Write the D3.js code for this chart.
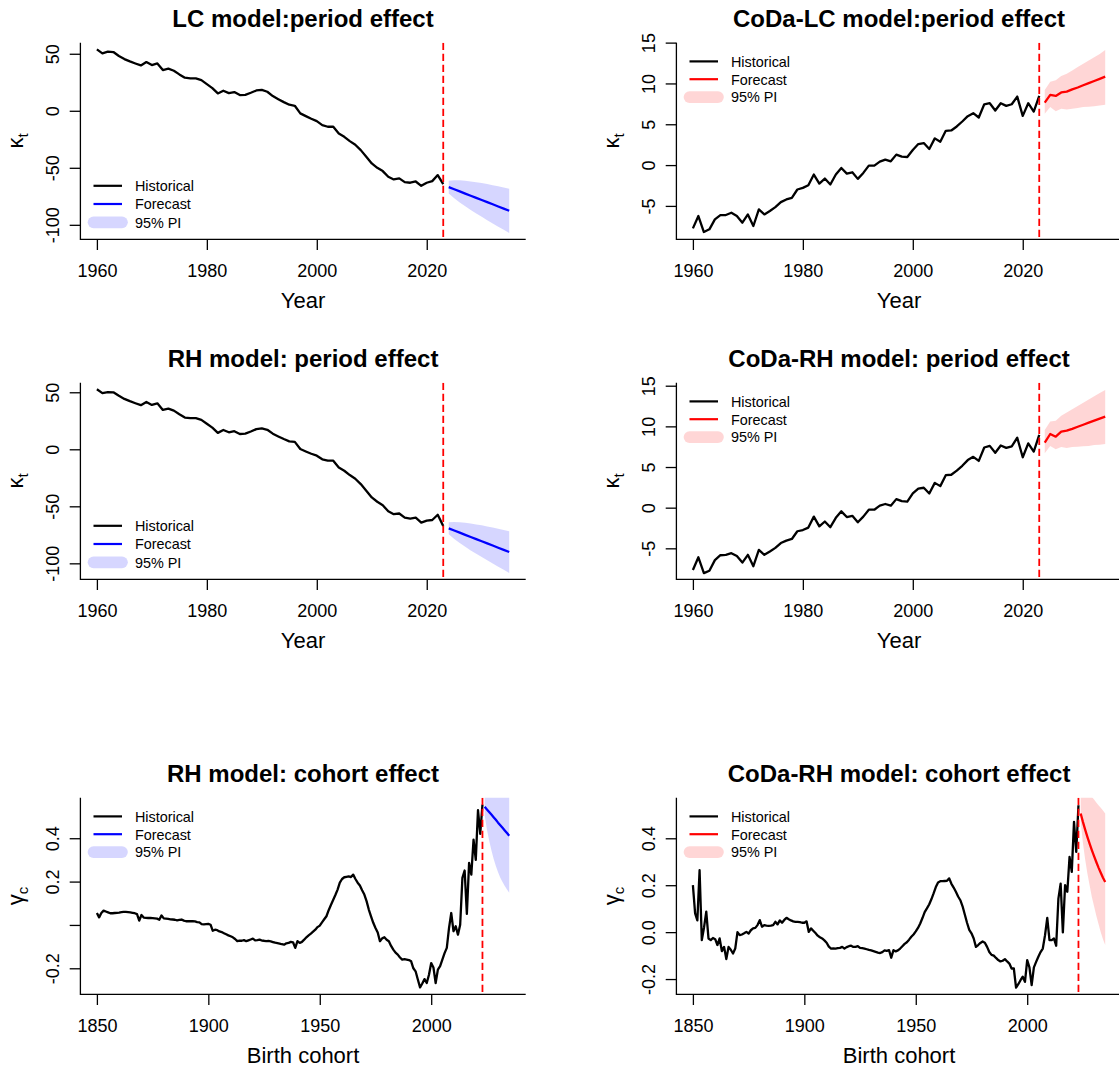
<!DOCTYPE html>
<html>
<head>
<meta charset="utf-8">
<script src="https://cdn.jsdelivr.net/npm/d3@7"></script>
<style>
  body { margin: 0; background: #fff; }
  svg { display: block; }
</style>
</head>
<body>
<svg id="chart" width="1119" height="1067"></svg>
<script>
// ---------------- DATA ----------------
const periodYears   = d3.range(1960, 2024);   // historical period years
const forecastYears = d3.range(2024, 2036);   // forecast years
const cohortYears   = d3.range(1850, 2024);   // historical birth cohorts

const periodTicks = [1960, 1980, 2000, 2020];
const cohortTicks = [1850, 1900, 1950, 2000];
const kappaTicksLarge = [-100, -50, 0, 50];
const kappaLabelsLarge = ["-100", "-50", "0", "50"];
const kappaTicksSmall = [-5, 0, 5, 10, 15];
const kappaLabelsSmall = ["-5", "0", "5", "10", "15"];
const gammaTicks = [-0.2, 0.0, 0.2, 0.4];
const gammaLabelsRH = ["-0.2", "", "0.2", "0.4"];
const gammaLabelsCoDa = ["-0.2", "0.0", "0.2", "0.4"];

// LC model: period effect
const lcKappa = [53.8,50.3,51.8,51.5,48.0,45.3,43.3,41.5,39.8,42.7,
  40.1,41.5,35.7,36.9,35.1,31.9,29.0,28.4,28.4,26.9,
  23.4,19.9,15.2,17.6,15.5,16.4,13.8,14.0,15.8,17.8,
  18.4,16.7,12.9,10.2,7.6,5.3,4.4,-2.3,-4.7,-7.0,
  -9.1,-12.6,-14.0,-14.0,-19.9,-22.8,-26.6,-29.8,-34.5,-40.3,
  -46.2,-50.0,-52.9,-57.9,-60.2,-59.3,-62.6,-63.1,-62.0,-65.8,
  -63.1,-61.7,-56.4,-64.3];
const lcForecast = [-66.9,-68.8,-70.7,-72.6,-74.5,-76.4,-78.2,-80.1,-82.0,-83.9,-85.8,-87.7];
const lcLower    = [-72.5,-76.7,-80.4,-83.8,-87.0,-90.1,-93.0,-95.9,-98.8,-101.6,-104.4,-107.1];
const lcUpper    = [-61.3,-60.9,-61.0,-61.4,-62.0,-62.7,-63.4,-64.3,-65.2,-66.2,-67.2,-68.3];

// CoDa-LC model: period effect
const codaLcKappa = [-7.75,-6.24,-8.20,-7.87,-6.65,-6.12,-6.12,-5.84,-6.24,-7.06,
  -6.04,-7.46,-5.43,-6.04,-5.63,-5.15,-4.54,-4.21,-4.01,-2.99,
  -2.79,-2.46,-1.16,-2.26,-1.65,-2.38,-1.16,-0.35,-1.04,-0.88,
  -1.69,-0.96,-0.07,-0.07,0.42,0.67,0.46,1.28,1.03,0.99,
  1.85,2.58,2.70,1.97,3.27,2.86,4.20,4.24,4.73,5.34,
  5.99,6.36,5.83,7.45,7.58,6.68,7.58,7.25,7.45,8.39,
  6.03,7.58,6.56,8.47];
const codaLcForecast = [7.66,8.60,8.47,8.90,9.00,9.28,9.50,9.78,10.04,10.30,10.56,10.83];
const codaLcLower    = [6.30,7.10,6.60,6.90,6.80,6.90,7.00,7.10,7.15,7.20,7.30,7.40];
const codaLcUpper    = [9.20,10.20,10.40,10.90,11.20,11.60,12.00,12.40,12.80,13.20,13.60,14.10];

// RH model: period effect
const rhKappa = [52.6,49.3,50.2,50.0,46.9,44.2,42.2,40.4,38.7,41.5,
  38.9,40.3,34.5,35.7,33.9,30.7,27.8,27.3,27.3,25.8,
  22.4,19.0,14.4,16.9,14.9,15.9,13.4,13.7,15.6,17.7,
  18.4,17.1,13.7,11.3,9.0,7.0,6.5,0.2,-1.9,-3.9,
  -5.6,-8.8,-10.0,-10.0,-15.9,-18.8,-22.6,-25.8,-30.5,-36.3,
  -42.2,-46.0,-49.0,-54.4,-56.9,-56.3,-59.9,-60.7,-60.0,-64.3,
  -62.6,-62.0,-57.4,-67.3];
const rhForecast = [-69.3,-71.2,-73.1,-75.0,-76.9,-78.8,-80.6,-82.5,-84.4,-86.3,-88.2,-90.1];
const rhLower    = [-74.6,-78.7,-82.2,-85.5,-88.7,-91.7,-94.5,-97.4,-100.2,-103.0,-105.7,-108.4];
const rhUpper    = [-64.0,-63.8,-64.0,-64.5,-65.1,-65.9,-66.7,-67.6,-68.6,-69.6,-70.7,-71.8];

// CoDa-RH model: period effect
const codaRhKappa = [-7.66,-6.10,-8.05,-7.75,-6.45,-5.85,-5.80,-5.60,-5.95,-6.75,
  -5.80,-7.20,-5.20,-5.80,-5.40,-4.95,-4.35,-4.05,-3.85,-2.90,
  -2.75,-2.45,-1.10,-2.30,-1.70,-2.40,-1.25,-0.45,-1.15,-1.00,
  -1.80,-1.10,-0.25,-0.25,0.25,0.45,0.25,1.05,0.80,0.75,
  1.75,2.35,2.45,1.75,3.05,2.65,4.00,4.05,4.55,5.15,
  5.85,6.25,5.75,7.40,7.60,6.75,7.65,7.35,7.55,8.60,
  6.20,7.90,6.90,8.95];
const codaRhForecast = [8.00,9.06,8.73,9.35,9.47,9.70,9.95,10.20,10.45,10.70,10.95,11.20];
const codaRhLower    = [6.69,7.60,7.20,7.45,7.35,7.45,7.50,7.55,7.60,7.70,7.75,7.83];
const codaRhUpper    = [9.55,10.60,10.70,11.30,11.70,12.10,12.50,12.90,13.30,13.70,14.10,14.48];

// RH model: cohort effect
const rhGamma = [0.055,0.035,0.055,0.066,0.062,0.058,0.054,0.054,0.055,0.056,
  0.057,0.059,0.060,0.060,0.059,0.058,0.056,0.054,0.050,0.020,
  0.046,0.034,0.033,0.032,0.032,0.031,0.030,0.029,0.024,0.044,
  0.030,0.029,0.028,0.026,0.025,0.024,0.021,0.023,0.025,0.020,
  0.017,0.018,0.017,0.017,0.016,0.013,0.012,0.004,0.003,0.004,
  0.005,0.001,-0.027,-0.022,-0.024,-0.030,-0.033,-0.038,-0.043,-0.048,
  -0.052,-0.057,-0.065,-0.075,-0.072,-0.073,-0.070,-0.075,-0.071,-0.067,
  -0.063,-0.071,-0.070,-0.068,-0.072,-0.073,-0.075,-0.074,-0.076,-0.079,
  -0.082,-0.084,-0.086,-0.089,-0.091,-0.085,-0.083,-0.078,-0.080,-0.106,
  -0.075,-0.083,-0.078,-0.068,-0.057,-0.048,-0.040,-0.031,-0.022,-0.010,
  -0.003,0.012,0.026,0.040,0.068,0.092,0.115,0.138,0.163,0.195,
  0.212,0.220,0.222,0.224,0.221,0.232,0.212,0.195,0.182,0.160,
  0.140,0.110,0.071,0.040,0.010,-0.014,-0.035,-0.075,-0.062,-0.057,
  -0.068,-0.075,-0.097,-0.114,-0.128,-0.137,-0.150,-0.160,-0.158,-0.160,
  -0.162,-0.168,-0.200,-0.214,-0.252,-0.288,-0.270,-0.250,-0.268,-0.230,
  -0.176,-0.196,-0.268,-0.206,-0.190,-0.160,-0.130,-0.106,-0.014,0.055,
  -0.029,-0.006,-0.045,0.001,0.217,0.251,0.051,0.286,0.232,0.394,
  0.300,0.530,0.420,0.555];
const rhGammaForecast = [0.545,0.533,0.521,0.509,0.497,0.485,0.472,0.460,0.448,0.436,0.424,0.412];
const rhGammaLower    = [0.505,0.440,0.390,0.345,0.305,0.272,0.243,0.218,0.198,0.180,0.163,0.148];
const rhGammaUpper    = [0.621,0.641,0.653,0.661,0.667,0.672,0.674,0.676,0.677,0.677,0.677,0.676];

// CoDa-RH model: cohort effect
const codaRhGamma = [0.200,0.080,0.050,0.264,-0.034,0.020,0.087,-0.027,-0.034,-0.025,
  -0.030,-0.055,-0.027,-0.081,-0.063,-0.115,-0.063,-0.075,-0.091,-0.070,
  0.000,-0.013,-0.010,-0.005,0.001,-0.006,0.008,0.016,0.018,0.030,
  0.051,0.023,0.030,0.028,0.027,0.028,0.030,0.044,0.033,0.050,
  0.040,0.052,0.061,0.055,0.050,0.046,0.044,0.044,0.043,0.040,
  0.040,0.046,0.001,0.016,0.006,-0.004,-0.015,-0.022,-0.027,-0.035,
  -0.045,-0.062,-0.070,-0.069,-0.070,-0.068,-0.067,-0.063,-0.070,-0.064,
  -0.060,-0.058,-0.063,-0.063,-0.060,-0.067,-0.068,-0.070,-0.073,-0.076,
  -0.078,-0.081,-0.084,-0.087,-0.089,-0.085,-0.078,-0.080,-0.077,-0.109,
  -0.077,-0.082,-0.078,-0.070,-0.060,-0.050,-0.043,-0.032,-0.020,-0.010,
  0.003,0.018,0.037,0.060,0.085,0.101,0.118,0.140,0.165,0.192,
  0.212,0.217,0.217,0.218,0.219,0.229,0.206,0.190,0.172,0.152,
  0.136,0.110,0.075,0.040,0.010,-0.005,-0.027,-0.063,-0.055,-0.046,
  -0.040,-0.045,-0.063,-0.085,-0.097,-0.100,-0.110,-0.119,-0.125,-0.122,
  -0.115,-0.125,-0.134,-0.155,-0.155,-0.237,-0.222,-0.205,-0.190,-0.212,
  -0.119,-0.150,-0.226,-0.150,-0.127,-0.105,-0.085,-0.070,-0.013,0.061,
  -0.034,-0.034,-0.027,-0.058,0.143,0.207,-0.001,0.200,0.172,0.321,
  0.257,0.470,0.342,0.541];
const codaRhGammaForecast = [0.506,0.470,0.437,0.406,0.377,0.350,0.324,0.299,0.275,0.253,0.232,0.214];
const codaRhGammaLower    = [0.470,0.380,0.310,0.250,0.200,0.150,0.110,0.070,0.035,0.000,-0.030,-0.055];
const codaRhGammaUpper    = [0.600,0.610,0.610,0.600,0.590,0.577,0.565,0.553,0.541,0.530,0.518,0.506];

// ---------------- LAYOUT ----------------
const FONT = '"Liberation Sans", Arial, Helvetica, sans-serif';
const W = 445.3, H = 196.6;
const colLeft = [80.4, 676.4];
const rowTop = [42.7, 382.7, 797.7];
const BLUE = "#0000FF", RED = "#FF0000";
const BLUE_BAND = "rgba(0,0,255,0.16)", RED_BAND = "rgba(255,0,0,0.16)";

const panels = [
  { id: "lc", col: 0, row: 0, title: "LC model:period effect", xlab: "Year", ysym: "κ", ysub: "t",
    xDomain: [1957, 2038], yDomain: [-112.7, 59.7], xTicks: periodTicks,
    yTicks: kappaTicksLarge, yLabels: kappaLabelsLarge,
    histYears: periodYears, hist: lcKappa, fc: lcForecast, lo: lcLower, hi: lcUpper,
    color: BLUE, band: BLUE_BAND, legend: "bottom", cut: 2023 },
  { id: "codalc", col: 1, row: 0, title: "CoDa-LC model:period effect", xlab: "Year", ysym: "κ", ysub: "t",
    xDomain: [1957, 2038], yDomain: [-9.09, 14.99], xTicks: periodTicks,
    yTicks: kappaTicksSmall, yLabels: kappaLabelsSmall,
    histYears: periodYears, hist: codaLcKappa, fc: codaLcForecast, lo: codaLcLower, hi: codaLcUpper,
    color: RED, band: RED_BAND, legend: "top", cut: 2023 },
  { id: "rh", col: 0, row: 1, title: "RH model: period effect", xlab: "Year", ysym: "κ", ysub: "t",
    xDomain: [1957, 2038], yDomain: [-114.0, 58.4], xTicks: periodTicks,
    yTicks: kappaTicksLarge, yLabels: kappaLabelsLarge,
    histYears: periodYears, hist: rhKappa, fc: rhForecast, lo: rhLower, hi: rhUpper,
    color: BLUE, band: BLUE_BAND, legend: "bottom", cut: 2023 },
  { id: "codarh", col: 1, row: 1, title: "CoDa-RH model: period effect", xlab: "Year", ysym: "κ", ysub: "t",
    xDomain: [1957, 2038], yDomain: [-8.81, 15.37], xTicks: periodTicks,
    yTicks: kappaTicksSmall, yLabels: kappaLabelsSmall,
    histYears: periodYears, hist: codaRhKappa, fc: codaRhForecast, lo: codaRhLower, hi: codaRhUpper,
    color: RED, band: RED_BAND, legend: "top", cut: 2023 },
  { id: "rhc", col: 0, row: 2, title: "RH model: cohort effect", xlab: "Birth cohort", ysym: "γ", ysub: "c",
    xDomain: [1842.6, 2042.4], yDomain: [-0.320, 0.587], xTicks: cohortTicks,
    yTicks: gammaTicks, yLabels: gammaLabelsRH,
    histYears: cohortYears, hist: rhGamma, fc: rhGammaForecast, lo: rhGammaLower, hi: rhGammaUpper,
    color: BLUE, band: BLUE_BAND, legend: "top", cut: 2023 },
  { id: "codarhc", col: 1, row: 2, title: "CoDa-RH model: cohort effect", xlab: "Birth cohort", ysym: "γ", ysub: "c",
    xDomain: [1842.6, 2042.4], yDomain: [-0.265, 0.573], xTicks: cohortTicks,
    yTicks: gammaTicks, yLabels: gammaLabelsCoDa,
    histYears: cohortYears, hist: codaRhGamma, fc: codaRhGammaForecast, lo: codaRhGammaLower, hi: codaRhGammaUpper,
    color: RED, band: RED_BAND, legend: "top", cut: 2023 }
];

// ---------------- DRAW ----------------
const svg = d3.select("#chart");
svg.append("rect").attr("width", 1119).attr("height", 1067).attr("fill", "#fff");
const defs = svg.append("defs");

panels.forEach(p => {
  const left = colLeft[p.col], top = rowTop[p.row];
  const x = d3.scaleLinear().domain(p.xDomain).range([left, left + W]);
  const y = d3.scaleLinear().domain(p.yDomain).range([top + H, top]);

  const clipId = "clip-" + p.id;
  defs.append("clipPath").attr("id", clipId)
    .append("rect").attr("x", left).attr("y", top).attr("width", W).attr("height", H);

  const histRows = p.histYears.map((yr, i) => ({ yr, v: p.hist[i] }));
  const fcRows = forecastYears.map((yr, i) => ({ yr, m: p.fc[i], lo: p.lo[i], hi: p.hi[i] }));

  const plot = svg.append("g").attr("clip-path", `url(#${clipId})`);
  plot.append("path").datum(fcRows)
    .attr("fill", p.band)
    .attr("d", d3.area().x(d => x(d.yr)).y0(d => y(d.lo)).y1(d => y(d.hi)));
  plot.append("path").datum(histRows)
    .attr("fill", "none").attr("stroke", "#000").attr("stroke-width", 2.3)
    .attr("stroke-linejoin", "round")
    .attr("d", d3.line().x(d => x(d.yr)).y(d => y(d.v)));
  plot.append("path").datum(fcRows)
    .attr("fill", "none").attr("stroke", p.color).attr("stroke-width", 2.3)
    .attr("stroke-linejoin", "round")
    .attr("d", d3.line().x(d => x(d.yr)).y(d => y(d.m)));
  plot.append("line")
    .attr("x1", x(p.cut)).attr("x2", x(p.cut))
    .attr("y1", top).attr("y2", top + H)
    .attr("stroke", RED).attr("stroke-width", 1.8)
    .attr("stroke-dasharray", "7.3,3.7");

  // x axis
  const gx = svg.append("g").attr("transform", `translate(0,${top + H})`)
    .call(d3.axisBottom(x).tickValues(p.xTicks).tickSize(10.7).tickSizeOuter(0).tickFormat(d => String(d)));
  gx.select(".domain").remove();
  gx.selectAll(".tick line").attr("stroke", "#000").attr("stroke-width", 1.3);
  gx.selectAll(".tick text")
    .attr("y", 37.4).attr("dy", null)
    .attr("font-family", FONT).attr("font-size", 18).attr("fill", "#000");

  // y axis
  const gy = svg.append("g").attr("transform", `translate(${left},0)`)
    .call(d3.axisLeft(y).tickValues(p.yTicks).tickSize(10.7).tickSizeOuter(0)
      .tickFormat(d => p.yLabels[p.yTicks.indexOf(d)]));
  gy.select(".domain").remove();
  gy.selectAll(".tick line").attr("stroke", "#000").attr("stroke-width", 1.3);
  gy.selectAll(".tick text")
    .attr("x", null).attr("dy", null)
    .attr("transform", "translate(-21.6,0) rotate(-90)")
    .attr("text-anchor", "middle")
    .attr("font-family", FONT).attr("font-size", 18).attr("fill", "#000");

  // L-shaped box
  svg.append("path")
    .attr("d", `M${left},${top}V${top + H}H${left + W}`)
    .attr("fill", "none").attr("stroke", "#000").attr("stroke-width", 1.3);

  // title
  svg.append("text")
    .attr("x", left + W / 2).attr("y", top - 16)
    .attr("text-anchor", "middle")
    .attr("font-family", FONT).attr("font-size", 24).attr("font-weight", "bold")
    .text(p.title);

  // x label
  svg.append("text")
    .attr("x", left + W / 2).attr("y", top + H + 69)
    .attr("text-anchor", "middle")
    .attr("font-family", FONT).attr("font-size", 22)
    .text(p.xlab);

  // y label
  const yl = svg.append("text")
    .attr("transform", `translate(${left - 57},${top + H / 2}) rotate(-90)`)
    .attr("text-anchor", "middle")
    .attr("font-family", FONT).attr("font-size", 22);
  yl.append("tspan").text(p.ysym);
  yl.append("tspan").attr("dy", 5).attr("font-size", 15).text(p.ysub);

  // legend
  const rowsY = p.legend === "bottom"
    ? [top + H - 53.5, top + H - 35.3, top + H - 17]
    : [top + 18.7, top + 36.5, top + 54.4];
  const items = [
    { label: "Historical", stroke: "#000", w: 2.2, cap: "butt" },
    { label: "Forecast", stroke: p.color, w: 2.2, cap: "butt" },
    { label: "95% PI", stroke: p.band, w: 11.7, cap: "round" }
  ];
  const lg = svg.append("g");
  items.forEach((it, i) => {
    lg.append("line")
      .attr("x1", left + 13.1).attr("x2", left + 41.6)
      .attr("y1", rowsY[i]).attr("y2", rowsY[i])
      .attr("stroke", it.stroke).attr("stroke-width", it.w).attr("stroke-linecap", it.cap);
    lg.append("text")
      .attr("x", left + 54.5).attr("y", rowsY[i]).attr("dy", "0.37em")
      .attr("font-family", FONT).attr("font-size", 14.4).attr("fill", "#000")
      .text(it.label);
  });
});
</script>
</body>
</html>
